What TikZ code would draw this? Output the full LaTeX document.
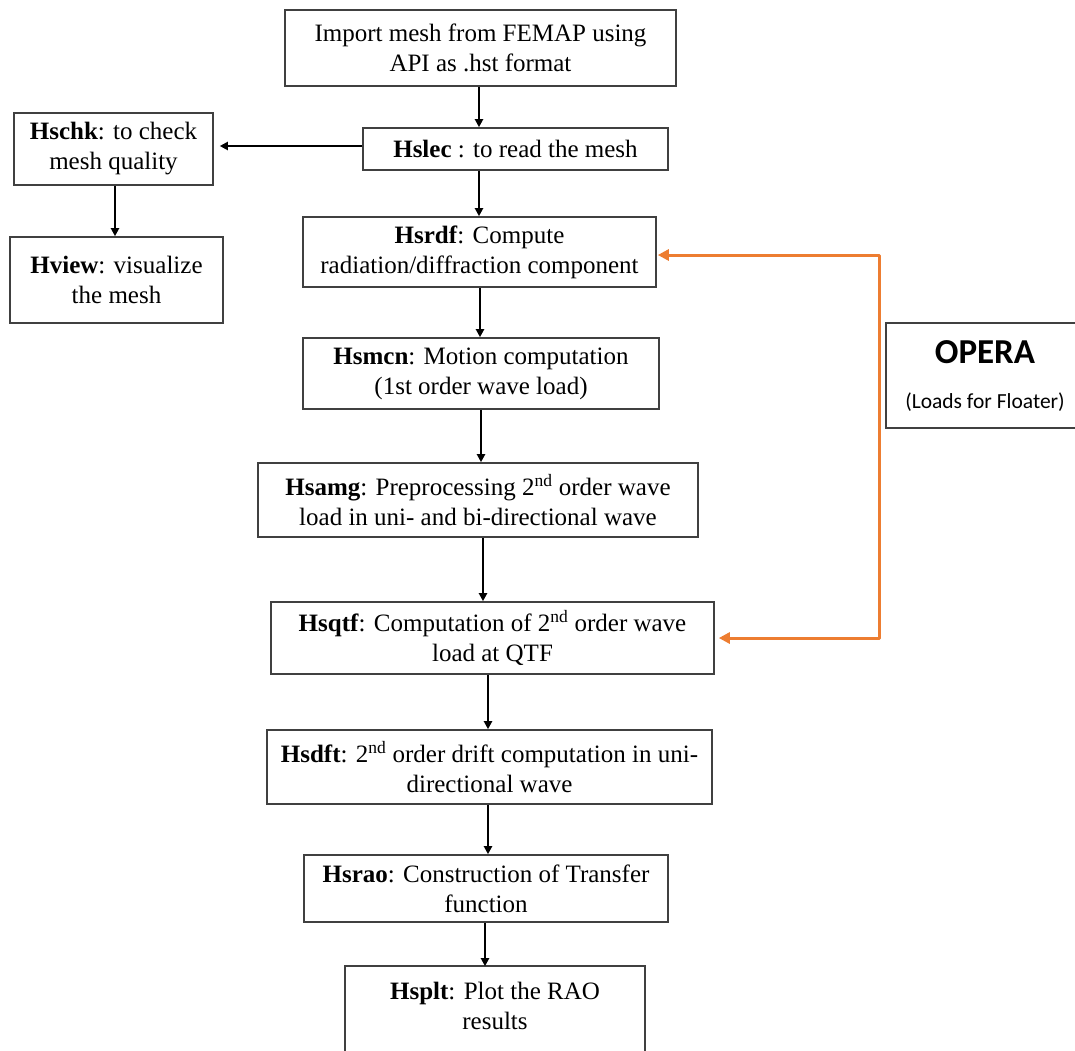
\documentclass[tikz,border=0pt]{standalone}
\usepackage{fontspec}
\setmainfont{Liberation Serif}
\newfontfamily\operafont{Carlito}
\usetikzlibrary{arrows.meta}
\definecolor{boxgray}{HTML}{404040}
\definecolor{offorange}{HTML}{ED7D31}
\tikzset{
  boxl/.style={draw=boxgray, line width=1.6pt},
  stepbox/.style={boxl, rectangle, inner sep=0pt, align=center,
    font=\fontsize{25}{30}\selectfont},
  arr/.style={draw=black, line width=2pt, -{Triangle[length=8pt,width=8pt]}},
  orarr/.style={draw=offorange, line width=3pt, line join=round,
    {Triangle[length=11pt,width=11pt]}-{Triangle[length=11pt,width=11pt]}}
}
\begin{document}
\begin{tikzpicture}[x=1pt,y=-1pt]
\useasboundingbox (0,0) rectangle (1075,1050);
\clip (0,0) rectangle (1075,1050);

\node[stepbox, minimum width=391pt, minimum height=76pt] (imp) at (480.5,48)
  {Import mesh from FEMAP using\\API as .hst format};
\node[stepbox, minimum width=305pt, minimum height=42pt] (slec) at (515.5,149)
  {\textbf{Hslec} : to read the mesh};
\node[stepbox, minimum width=199pt, minimum height=72pt] (chk) at (113.5,149)
  {\textbf{Hschk}: to check\\mesh quality};
\node[stepbox, minimum width=213pt, minimum height=86pt] (view) at (116.5,280)
  {\textbf{Hview}: visualize\\the mesh};
\node[stepbox, minimum width=353pt, minimum height=70pt] (rdf) at (479.5,252)
  {\textbf{Hsrdf}: Compute\\radiation/diffraction component};
\node[stepbox, minimum width=356pt, minimum height=71pt] (mcn) at (481,373.5)
  {\textbf{Hsmcn}: Motion computation\\(1st order wave load)};
\node[stepbox, minimum width=440pt, minimum height=74pt] (amg) at (478,500)
  {\textbf{Hsamg}: Preprocessing 2\textsuperscript{nd} order wave\\load in uni- and bi-directional wave};
\node[stepbox, minimum width=443pt, minimum height=72pt] (qtf) at (492.5,638)
  {\textbf{Hsqtf}: Computation of 2\textsuperscript{nd} order wave\\load at QTF};
\node[stepbox, minimum width=445pt, minimum height=74pt] (dft) at (489.5,767)
  {\textbf{Hsdft}: 2\textsuperscript{nd} order drift computation in uni-\\directional wave};
\node[stepbox, minimum width=364pt, minimum height=67pt] (rao) at (486,888.5)
  {\textbf{Hsrao}: Construction of Transfer\\function};
\node[stepbox, draw=none, minimum width=298pt, minimum height=78pt] (plt) at (495,1006)
  {\textbf{Hsplt}: Plot the RAO\\results};
\draw[boxl] ([yshift=-40pt]plt.south west) -- (plt.north west) -- (plt.north east) -- ([yshift=-40pt]plt.south east);

\node[boxl, rectangle, inner sep=0pt, minimum width=191pt, minimum height=105pt] (opera) at (981.5,375.5) {};
\node[font=\operafont\bfseries\fontsize{35}{40}\selectfont, inner sep=0pt] (operat) at (985,352) {OPERA};
\node[font=\operafont\fontsize{21.5}{26}\selectfont, inner sep=0pt] (operas) at (985,402) {(Loads for Floater)};

% black connectors
\draw[arr] (imp.south -| 479,0) -- (slec.north -| 479,0);
\draw[arr, shorten >=6pt] (slec.west |- 0,146) -- (chk.east |- 0,146);
\draw[arr] (chk.south -| 115,0) -- (view.north -| 115,0);
\draw[arr] (slec.south -| 479,0) -- (rdf.north -| 479,0);
\draw[arr] (rdf.south -| 480,0) -- (mcn.north -| 480,0);
\draw[arr] (mcn.south -| 481,0) -- (amg.north -| 481,0);
\draw[arr] (amg.south -| 483,0) -- (qtf.north -| 483,0);
\draw[arr] (qtf.south -| 488,0) -- (dft.north -| 488,0);
\draw[arr] (dft.south -| 488,0) -- (rao.north -| 488,0);
\draw[arr] (rao.south -| 485,0) -- (plt.north -| 485,0);

% orange feedback
\coordinate (ot) at (879,255);
\coordinate (ob) at (879,638);
\draw[orarr, shorten <=1pt, shorten >=4pt] (rdf.east |- ot) -- (ot) -- (ob) -- (qtf.east |- ob);
\end{tikzpicture}
\end{document}
